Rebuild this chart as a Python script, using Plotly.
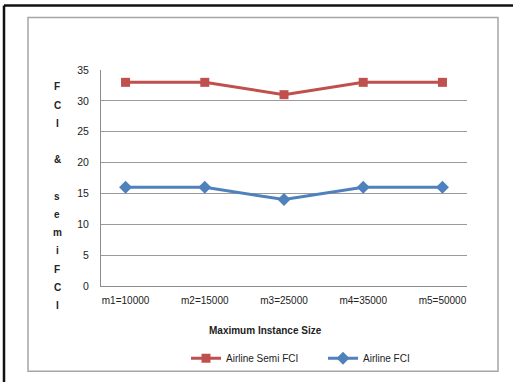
import plotly.graph_objects as go

categories = ["m1=10000", "m2=15000", "m3=25000", "m4=35000", "m5=50000"]
semi_fci = [33, 33, 31, 33, 33]
fci = [16, 16, 14, 16, 16]
y_ticks = [0, 5, 10, 15, 20, 25, 30, 35]
y_title_letters = ["F", "C", "I", "", "&", "", "s", "e", "m", "i", "F", "C", "I"]

W, H = 513, 385
L, R, T, B = 101, 467, 70, 288

def px(x):
    return (x - L) / (R - L)

def py(y):
    return (B - y) / (B - T)

FONT = "Liberation Sans"

fig = go.Figure()
fig.add_trace(go.Scatter(
    x=categories, y=semi_fci, name="Airline Semi FCI", mode="lines+markers",
    line=dict(color="#C0504D", width=3),
    marker=dict(symbol="square", size=9, color="#C0504D"),
))
fig.add_trace(go.Scatter(
    x=categories, y=fci, name="Airline FCI", mode="lines+markers",
    line=dict(color="#4F81BD", width=3),
    marker=dict(symbol="diamond", size=10, color="#4F81BD"),
))

fig.update_layout(
    width=W, height=H, autosize=False,
    margin=dict(l=L, r=W - R, t=T, b=H - B, pad=0),
    paper_bgcolor="white", plot_bgcolor="white",
    font=dict(family=FONT, size=10, color="#222222"),
    showlegend=True,
    legend=dict(orientation="h", x=px(186), y=py(361), xanchor="left", yanchor="middle",
                font=dict(size=10, color="#222222"), bgcolor="rgba(0,0,0,0)",
                itemwidth=30, entrywidth=92, entrywidthmode="pixels"),
    xaxis=dict(type="category", showgrid=False, showline=True, linecolor="#8c8c8c", linewidth=1,
               ticks="", tickfont=dict(size=10), ticklabelstandoff=5, fixedrange=True),
    yaxis=dict(range=[0, 35], tickvals=y_ticks, showgrid=True, gridcolor="#9a9a9a", gridwidth=1,
               showline=True, linecolor="#8c8c8c", linewidth=1, zeroline=False,
               ticks="", tickfont=dict(size=10.5), ticklabelstandoff=9, fixedrange=True),
)

# Axis titles
fig.add_annotation(x=px(265), y=py(333), xref="paper", yref="paper",
                   text="<b>Maximum Instance Size</b>", showarrow=False,
                   font=dict(size=10, color="#222222"), xanchor="center", yanchor="middle")
for i, ch in enumerate(y_title_letters):
    if ch:
        fig.add_annotation(x=px(57), y=py(87 + 18.4 * i), xref="paper", yref="paper",
                           text="<b>" + ch + "</b>", showarrow=False,
                           font=dict(size=10, color="#222222"),
                           xanchor="center", yanchor="middle")

# Inner gray chart border
fig.add_shape(type="rect", xref="paper", yref="paper",
              x0=px(28), x1=px(498), y0=py(374), y1=py(17),
              line=dict(color="#a6a6a6", width=1.5))
# Outer black border (top and left)
fig.add_shape(type="line", xref="paper", yref="paper",
              x0=px(4), x1=px(513), y0=py(5), y1=py(5),
              line=dict(color="#111111", width=2.5))
fig.add_shape(type="line", xref="paper", yref="paper",
              x0=px(4), x1=px(4), y0=py(5), y1=py(385),
              line=dict(color="#111111", width=2.5))

fig.write_html("out.html", config={"displayModeBar": False},
               post_script="document.body.style.margin='0';document.body.style.overflow='hidden';")
